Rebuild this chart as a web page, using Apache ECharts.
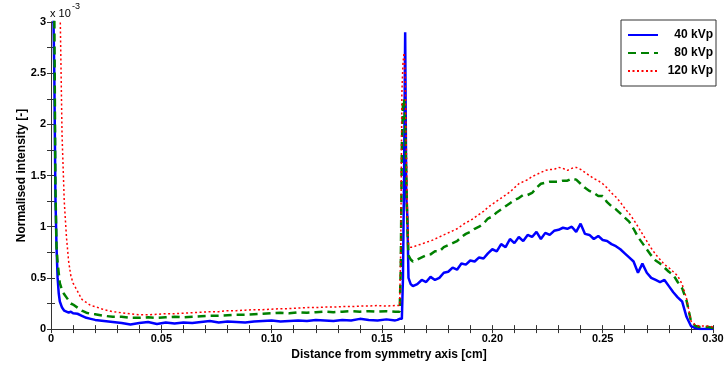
<!DOCTYPE html>
<html>
<head>
<meta charset="utf-8">
<script src="https://cdn.jsdelivr.net/npm/echarts@6/dist/echarts.min.js"></script>
<style>
  html, body { margin: 0; padding: 0; background: #fff; }
  #chart { width: 728px; height: 366px; }
</style>
</head>
<body>
<div id="chart"></div>
<script>
// distance from symmetry axis [cm]
const distance = [
  0, 0.0005, 0.001, 0.0015, 0.002, 0.0025, 0.003, 0.0035, 0.004, 0.005,
  0.006, 0.007, 0.008, 0.009, 0.010, 0.012, 0.014, 0.016, 0.018,
  0.020, 0.024, 0.028, 0.032, 0.036, 0.040, 0.044, 0.048, 0.052, 0.056,
  0.060, 0.064, 0.068, 0.072, 0.076, 0.080, 0.084, 0.088, 0.092, 0.096,
  0.100, 0.104, 0.108, 0.112, 0.116, 0.120, 0.124, 0.128, 0.132, 0.136,
  0.140, 0.144, 0.148, 0.152, 0.156,
  0.157, 0.158, 0.1585, 0.159, 0.1595, 0.160, 0.1605, 0.161, 0.1615, 0.162, 0.163,
  0.164, 0.166, 0.168, 0.170, 0.172, 0.174, 0.176, 0.178, 0.180, 0.182,
  0.184, 0.186, 0.188, 0.190, 0.192, 0.194, 0.196, 0.198, 0.200, 0.202,
  0.204, 0.206, 0.208, 0.210, 0.212, 0.214, 0.216, 0.218, 0.220, 0.222,
  0.224, 0.226, 0.228, 0.230, 0.232, 0.234, 0.236, 0.238, 0.240, 0.242,
  0.244, 0.246, 0.248, 0.250, 0.252, 0.254, 0.256, 0.258, 0.260, 0.262,
  0.264, 0.266, 0.268, 0.270, 0.272, 0.274, 0.276, 0.278, 0.280, 0.282,
  0.284, 0.286, 0.288, 0.290, 0.292, 0.294, 0.296, 0.298, 0.300
];

// normalised intensity, in units of 1e-3
const kvp40 = [
  3.5, 3.5, 3.2, 2.5, 1.3, 0.8, 0.5, 0.35, 0.27, 0.21,
  0.18, 0.17, 0.16, 0.17, 0.155, 0.15, 0.13, 0.11, 0.10,
  0.09, 0.08, 0.07, 0.06, 0.045, 0.06, 0.07, 0.05, 0.065, 0.055,
  0.065, 0.06, 0.07, 0.08, 0.065, 0.075, 0.07, 0.065, 0.075, 0.08,
  0.085, 0.075, 0.08, 0.085, 0.08, 0.09, 0.085, 0.08, 0.09, 0.085,
  0.1, 0.09, 0.085, 0.095, 0.085,
  0.09, 0.1, 0.09, 0.1, 0.5, 1.5, 2.9, 1.3, 1.1, 0.5, 0.44,
  0.42, 0.44, 0.48, 0.46, 0.51, 0.48, 0.50, 0.55, 0.56, 0.60,
  0.58, 0.64, 0.63, 0.67, 0.66, 0.70, 0.69, 0.74, 0.78, 0.76,
  0.83, 0.80, 0.88, 0.84, 0.90, 0.86, 0.92, 0.90, 0.95, 0.88,
  0.94, 0.92, 0.96, 0.97, 0.99, 0.98, 1.00, 0.95, 1.03, 0.93,
  0.92, 0.88, 0.91, 0.87, 0.86, 0.83, 0.81, 0.78, 0.74, 0.70,
  0.66, 0.55, 0.64, 0.55, 0.50, 0.48, 0.46, 0.48, 0.42, 0.36,
  0.31, 0.27, 0.12, 0.03, 0.01, 0, 0, 0, 0
];

const kvp80 = [
  3.5, 3.5, 3.5, 3.1, 1.4, 0.8, 0.65, 0.55, 0.45, 0.38,
  0.34, 0.31, 0.28, 0.25, 0.24, 0.21, 0.18, 0.16, 0.15,
  0.145, 0.13, 0.12, 0.12, 0.11, 0.11, 0.115, 0.11, 0.115, 0.12,
  0.115, 0.12, 0.125, 0.13, 0.13, 0.135, 0.14, 0.14, 0.145, 0.15,
  0.155, 0.16, 0.155, 0.165, 0.16, 0.165, 0.17, 0.165, 0.17, 0.175,
  0.17, 0.175, 0.17, 0.175, 0.17,
  0.17, 0.17, 0.6, 1.8, 2.2, 2.25, 2.0, 1.5, 1.0, 0.72, 0.68,
  0.66, 0.68, 0.70, 0.72, 0.73, 0.76, 0.76, 0.80, 0.82, 0.84,
  0.86, 0.90, 0.93, 0.95, 0.98, 1.00, 1.03, 1.08, 1.10, 1.14,
  1.17, 1.20, 1.23, 1.26, 1.28, 1.31, 1.31, 1.33, 1.38, 1.42,
  1.43, 1.44, 1.44, 1.44, 1.45, 1.45, 1.47, 1.46, 1.42, 1.38,
  1.35, 1.33, 1.30, 1.30, 1.24, 1.20, 1.17, 1.13, 1.09, 1.05,
  0.98, 0.90, 0.84, 0.78, 0.72, 0.67, 0.64, 0.60, 0.56, 0.53,
  0.46, 0.40, 0.28, 0.08, 0.03, 0.02, 0.02, 0.02, 0.01
];

const kvp120 = [
  3.5, 3.5, 3.5, 3.5, 3.5, 3.5, 3.5, 3.5, 3.3, 1.9,
  1.25, 0.9, 0.66, 0.52, 0.45, 0.37, 0.29, 0.26, 0.23,
  0.22, 0.19, 0.17, 0.16, 0.15, 0.14, 0.14, 0.145, 0.15, 0.15,
  0.155, 0.16, 0.165, 0.17, 0.17, 0.18, 0.18, 0.185, 0.19, 0.19,
  0.195, 0.2, 0.2, 0.205, 0.21, 0.21, 0.215, 0.215, 0.22, 0.22,
  0.225, 0.225, 0.23, 0.225, 0.23,
  0.23, 0.23, 0.8, 2.3, 2.6, 2.7, 2.5, 1.8, 1.1, 0.83, 0.8,
  0.80, 0.82, 0.83, 0.85, 0.86, 0.88, 0.90, 0.92, 0.94, 0.96,
  0.98, 1.01, 1.04, 1.06, 1.09, 1.12, 1.15, 1.19, 1.22, 1.25,
  1.28, 1.31, 1.34, 1.38, 1.42, 1.44, 1.46, 1.49, 1.51, 1.53,
  1.55, 1.56, 1.56, 1.58, 1.57, 1.55, 1.57, 1.58, 1.56, 1.53,
  1.50, 1.47, 1.45, 1.42, 1.38, 1.33, 1.29, 1.24, 1.18, 1.13,
  1.07, 1.00, 0.93, 0.86, 0.79, 0.73, 0.68, 0.63, 0.60, 0.56,
  0.52, 0.44, 0.30, 0.08, 0.04, 0.03, 0.03, 0.03, 0.02
];

const seriesNames = ['40 kVp', '80 kVp', '120 kVp'];

const pairs = (vals) => distance.map((d, i) => [d, vals[i]]);

const axisColor = '#333';
const fontFamily = 'Liberation Sans, Arial, sans-serif';

const xLabel = (v) => {
  const k = Math.round(v * 100);
  if (k % 5 !== 0) return '';
  return k === 0 ? '0' : v.toFixed(2);
};
const yLabel = (v) => {
  const k = Math.round(v * 100);
  if (k % 50 !== 0) return '';
  return String(k / 100);
};

const myChart = echarts.init(document.getElementById('chart'));

const options = {
  animation: false,
  textStyle: { fontFamily: fontFamily },
  grid: { left: 51, right: 15, top: 22, bottom: 36 },
  graphic: [
    {
      type: 'text', left: 50, top: 8,
      style: { text: 'x 10', font: '11px ' + fontFamily, fill: '#000' }
    },
    {
      type: 'text', left: 72, top: 2,
      style: { text: '-3', font: '9px ' + fontFamily, fill: '#000' }
    }
  ],
  legend: {
    orient: 'vertical',
    right: 12,
    top: 20,
    data: seriesNames,
    itemWidth: 30,
    itemHeight: 14,
    itemGap: 6,
    padding: [9, 3, 9, 6],
    borderColor: '#333',
    borderWidth: 1,
    backgroundColor: '#fff',
    itemStyle: { opacity: 0 },
    formatter: (name) => '{t|' + name + '}',
    textStyle: {
      fontSize: 12, fontWeight: 'bold', color: '#000',
      rich: { t: { width: 50, align: 'right', fontSize: 12, fontWeight: 'bold', color: '#000' } }
    }
  },
  xAxis: [
    {
      type: 'value', min: 0, max: 0.3, interval: 0.01,
      name: 'Distance from symmetry axis [cm]',
      nameLocation: 'middle', nameGap: 15,
      nameTextStyle: { fontSize: 12, fontWeight: 'bold', color: '#000', padding: [0, 0, 0, 14] },
      axisLine: { lineStyle: { color: axisColor } },
      axisTick: { inside: true, length: 4, lineStyle: { color: axisColor } },
      axisLabel: { formatter: xLabel, fontSize: 11, fontWeight: 'bold', color: '#000', margin: 4, showMaxLabel: true },
      splitLine: { show: false }
    },
    {
      type: 'value', position: 'top', min: 0, max: 0.3, interval: 0.01,
      axisLine: { lineStyle: { color: axisColor } },
      axisTick: { inside: true, length: 4, lineStyle: { color: axisColor } },
      axisLabel: { show: false },
      splitLine: { show: false }
    }
  ],
  yAxis: [
    {
      type: 'value', min: 0, max: 3, interval: 0.25,
      name: 'Normalised intensity [-]',
      nameLocation: 'middle', nameGap: 23, nameMoveOverlap: false,
      nameTextStyle: { fontSize: 12, fontWeight: 'bold', color: '#000' },
      axisLine: { show: true, lineStyle: { color: axisColor } },
      axisTick: { show: true, inside: true, length: 4, lineStyle: { color: axisColor } },
      axisLabel: { formatter: yLabel, fontSize: 11, fontWeight: 'bold', color: '#000', margin: 5 },
      splitLine: { show: false }
    },
    {
      type: 'value', position: 'right', min: 0, max: 3, interval: 0.25,
      axisLine: { show: true, lineStyle: { color: axisColor } },
      axisTick: { show: true, inside: true, length: 4, lineStyle: { color: axisColor } },
      axisLabel: { show: false },
      splitLine: { show: false }
    }
  ],
  series: [
    {
      name: '40 kVp', type: 'line', symbol: 'none', clip: true,
      data: pairs(kvp40),
      lineStyle: { color: '#0000ff', width: 2.5 },
      itemStyle: { color: '#0000ff' }
    },
    {
      name: '80 kVp', type: 'line', symbol: 'none', clip: true,
      data: pairs(kvp80),
      lineStyle: { color: '#008000', width: 2.5, type: [8, 5] },
      itemStyle: { color: '#008000' }
    },
    {
      name: '120 kVp', type: 'line', symbol: 'none', clip: true,
      data: pairs(kvp120),
      lineStyle: { color: '#ff0000', width: 1.5, type: [2, 2.5] },
      itemStyle: { color: '#ff0000' }
    }
  ]
};

myChart.setOption(options);
</script>
</body>
</html>
